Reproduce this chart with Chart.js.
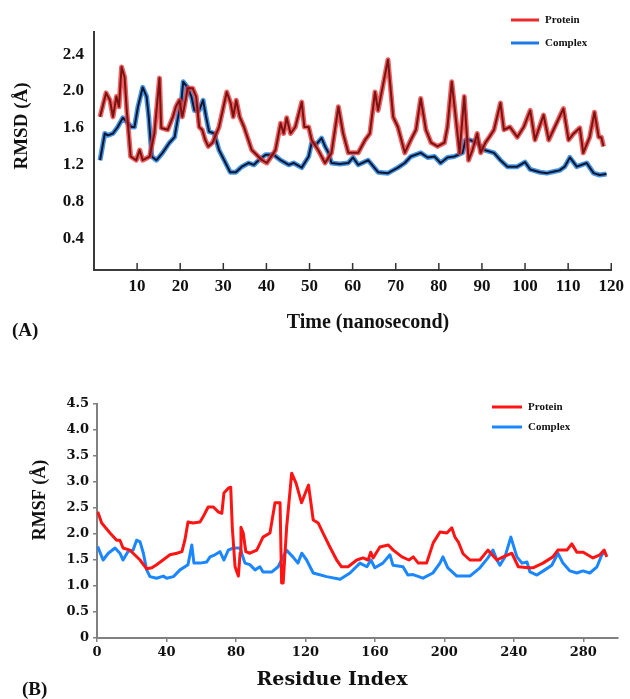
<!DOCTYPE html>
<html>
<head>
<meta charset="utf-8">
<script src="https://cdn.jsdelivr.net/npm/chart.js@4.4.1/dist/chart.umd.min.js"></script>
<style>
  body { margin: 0; background: #fff; width: 630px; height: 699px; overflow: hidden; }
  canvas { position: absolute; left: 0; }
  #chartA { top: 0; }
  #chartB { top: 345px; }
</style>
</head>
<body>
<canvas id="chartA" width="630" height="345"></canvas>
<canvas id="chartB" width="630" height="354"></canvas>
<script>
// (A) RMSD over time
var proteinTime = [1.4,2.8,3.7,4.4,5.2,5.8,6.4,7.1,7.6,8.5,9.8,10.6,11.3,12.9,14.0,15.2,15.6,17.1,18.3,19.0,19.8,20.5,21.4,21.7,22.9,23.7,24.4,25.1,25.8,26.5,27.5,29.0,30.8,31.7,32.3,33.0,33.8,34.8,36.6,39.0,40.1,42.1,43.3,44.0,44.7,45.6,46.7,48.2,48.8,49.8,50.5,52.0,53.6,55.1,56.7,57.8,59.0,61.3,62.9,64.0,65.2,65.9,68.2,69.4,70.5,72.1,73.5,74.7,75.8,77.0,78.2,79.7,81.3,82.0,83.0,83.9,84.8,85.9,86.9,87.8,88.9,89.7,90.8,91.7,92.8,94.3,95.1,96.5,98.2,99.7,101.2,102.3,104.3,105.5,106.6,108.9,110.1,111.3,112.7,113.5,115.0,116.1,117.1,117.7,118.2];
var proteinRmsd = [1.72,1.98,1.90,1.72,1.94,1.83,2.26,2.15,1.79,1.29,1.25,1.36,1.25,1.29,1.54,2.14,1.60,1.58,1.72,1.83,1.90,1.72,1.94,2.03,2.03,1.94,1.61,1.58,1.47,1.40,1.44,1.61,1.99,1.87,1.72,1.90,1.72,1.61,1.36,1.25,1.22,1.36,1.65,1.54,1.71,1.54,1.61,1.88,1.61,1.61,1.47,1.36,1.22,1.33,1.83,1.54,1.33,1.33,1.47,1.54,1.99,1.79,2.34,1.72,1.61,1.33,1.47,1.58,1.92,1.58,1.44,1.40,1.44,1.61,2.10,1.72,1.33,1.94,1.25,1.36,1.54,1.33,1.44,1.50,1.58,1.87,1.58,1.61,1.50,1.61,1.79,1.47,1.74,1.47,1.58,1.81,1.47,1.54,1.60,1.33,1.50,1.77,1.50,1.50,1.40];
var complexTime = [1.4,2.5,3.2,4.4,5.5,6.7,8.7,9.4,10.2,11.3,12.2,12.7,13.4,14.5,15.9,17.5,18.7,19.4,20.3,20.7,21.7,22.6,23.3,24.4,25.3,26.0,26.7,27.9,29.0,30.2,31.6,32.9,34.3,35.9,37.1,38.2,39.8,41.7,43.3,45.2,46.3,48.2,49.8,50.5,51.5,52.8,53.6,54.4,55.1,57.0,59.0,60.1,61.3,63.6,65.9,68.2,70.5,72.1,73.5,75.8,77.4,79.0,80.4,82.0,83.6,85.5,86.2,87.1,88.9,90.6,92.8,94.3,95.9,98.2,100.0,101.2,103.5,105.1,107.0,108.0,109.2,110.4,112.0,114.3,115.9,117.3,118.9];
var complexRmsd = [1.25,1.54,1.52,1.54,1.61,1.71,1.61,1.61,1.83,2.04,1.94,1.72,1.29,1.25,1.33,1.44,1.50,1.69,1.90,2.10,2.04,1.94,1.79,1.79,1.90,1.72,1.56,1.54,1.36,1.25,1.12,1.12,1.18,1.22,1.20,1.25,1.31,1.31,1.25,1.20,1.22,1.17,1.29,1.44,1.42,1.49,1.40,1.33,1.22,1.21,1.22,1.28,1.20,1.25,1.12,1.11,1.17,1.22,1.29,1.33,1.28,1.29,1.22,1.28,1.29,1.33,1.47,1.47,1.44,1.36,1.33,1.25,1.18,1.18,1.23,1.15,1.12,1.11,1.13,1.14,1.18,1.28,1.18,1.22,1.11,1.09,1.10];
var rmsdTicks = [0.4, 0.8, 1.2, 1.6, 2.0, 2.4];

// (B) RMSF per residue
var proteinResidue = [0.4,2.7,7.5,11.3,13.2,15,19,20.8,24.8,28.6,31.6,34.3,38,42,46,48.9,50.6,52.4,55.3,59.3,61.1,64,67,70,71.9,73.1,75.6,77,77.9,79.5,81.4,82.4,82.9,84.2,85.7,88,92,95.6,99.6,102.5,105.4,106.3,107.2,109.2,112.1,114.6,117.8,120.7,121.8,124.5,127.4,130.1,134.1,138,140.8,144.6,149.6,153.2,156.1,157.6,159,162.9,167.7,170.6,175.6,179.6,182.1,185,189.8,193.6,197.5,201.5,204.3,206.1,208,210.8,214.7,220.5,225.1,230.3,233.9,238.9,242.6,248.3,251,256.8,262.5,265.4,270.6,273.4,276.3,280,285.6,289.6,292,293.6];
var proteinRmsf = [2.43,2.21,2.02,1.88,1.88,1.73,1.69,1.63,1.50,1.33,1.35,1.41,1.50,1.60,1.63,1.66,1.88,2.23,2.21,2.23,2.33,2.52,2.52,2.42,2.40,2.79,2.88,2.90,2.13,1.37,1.19,1.63,2.13,2.02,1.66,1.63,1.69,1.94,2.02,2.60,2.60,1.06,1.06,2.13,3.17,2.98,2.60,2.85,2.94,2.27,2.21,2.02,1.75,1.50,1.37,1.37,1.50,1.54,1.50,1.65,1.54,1.75,1.79,1.69,1.56,1.50,1.56,1.44,1.44,1.83,2.04,2.02,2.12,1.94,1.85,1.62,1.50,1.50,1.69,1.50,1.56,1.63,1.37,1.35,1.35,1.44,1.56,1.69,1.69,1.81,1.65,1.65,1.54,1.60,1.69,1.56];
var complexResidue = [0.4,3.5,6.5,10.4,13.2,15,17.8,20.8,22.8,24.8,26.7,28.6,30.5,34.3,38.2,40.1,44,47.8,52.4,54.6,55.8,59.3,63.1,65.1,67.9,70.8,73.1,75.6,78.3,82.3,85.2,88,91,93.8,95.6,100.7,104.3,109.1,112.8,115.7,117.9,120.7,124.5,132.2,140,145.7,151.4,155.4,157.7,160,164.6,168.7,170.4,176.2,179,182,187.7,193.4,197.5,199.2,202,207.2,214.7,220.5,225.1,228,230.3,232,234.9,238.3,241.8,244.7,247.6,249.3,253.3,257.9,261.9,265.4,268.3,272.3,276.3,279.8,283.8,287.9,290.7,292.5];
var complexRmsf = [1.76,1.50,1.63,1.73,1.63,1.50,1.66,1.69,1.88,1.85,1.63,1.31,1.18,1.15,1.19,1.15,1.18,1.31,1.41,1.79,1.44,1.44,1.46,1.56,1.60,1.66,1.50,1.69,1.73,1.73,1.44,1.41,1.31,1.37,1.27,1.27,1.37,1.69,1.56,1.44,1.63,1.50,1.25,1.18,1.13,1.25,1.44,1.37,1.50,1.35,1.44,1.60,1.40,1.37,1.21,1.22,1.15,1.25,1.44,1.56,1.35,1.19,1.19,1.35,1.54,1.69,1.50,1.40,1.56,1.94,1.56,1.44,1.46,1.27,1.21,1.31,1.40,1.63,1.44,1.29,1.25,1.29,1.25,1.37,1.60,1.65];
var residueTicks = [0, 40, 80, 120, 160, 200, 240, 280];
var rmsfTicks = [0, 0.5, 1.0, 1.5, 2.0, 2.5, 3.0, 3.5, 4.0, 4.5];

var seriesLabels = ['Protein', 'Complex'];
var serif = '"Liberation Serif", "Times New Roman", serif';
var wideSerif = '"DejaVu Serif", serif'; // panel B uses a broader face

function pairs(xs, ys) {
    var out = [];
    for (var i = 0; i < xs.length; i++) out.push({x: xs[i], y: ys[i]});
    return out;
}

function line(data, color, width) {
    return {data: data, borderColor: color, borderWidth: width, pointRadius: 0, fill: false, tension: 0, borderJoinStyle: 'round'};
}

// axis titles, legend and panel letter drawn at fixed spots
var captions = {
    id: 'captions',
    afterDraw: function(chart, args, opts) {
        var ctx = chart.ctx;
        ctx.save();
        ctx.fillStyle = '#111';
        opts.texts.forEach(function(t) {
            ctx.save();
            ctx.font = 'bold ' + t.size + 'px ' + (t.family || serif);
            ctx.textAlign = t.align || 'center';
            ctx.textBaseline = 'middle';
            ctx.translate(t.x, t.y);
            if (t.rotate) ctx.rotate(-Math.PI / 2);
            ctx.fillText(t.text, 0, 0);
            ctx.restore();
        });
        var lg = opts.legend;
        seriesLabels.forEach(function(label, i) {
            var y = lg.y + i * lg.gap;
            ctx.strokeStyle = lg.colors[i];
            ctx.lineWidth = 3;
            ctx.beginPath();
            ctx.moveTo(lg.x, y);
            ctx.lineTo(lg.x + lg.len, y);
            ctx.stroke();
            ctx.font = 'bold ' + lg.size + 'px ' + serif;
            ctx.textAlign = 'left';
            ctx.textBaseline = 'middle';
            ctx.fillText(label, lg.x + lg.len + 6, y);
        });
        ctx.restore();
    }
};

// small tick marks pointing up into the plot (panel A)
var innerTicks = {
    id: 'innerTicks',
    afterDraw: function(chart) {
        var sx = chart.scales.x, ctx = chart.ctx;
        ctx.save();
        ctx.strokeStyle = '#333';
        ctx.lineWidth = 1.5;
        sx.ticks.forEach(function(t) {
            if (t.value === 0) return;
            var px = sx.getPixelForValue(t.value);
            ctx.beginPath();
            ctx.moveTo(px, sx.top);
            ctx.lineTo(px, sx.top - 7);
            ctx.stroke();
        });
        ctx.restore();
    }
};

var chartA = new Chart(document.getElementById('chartA').getContext('2d'), {
    type: 'line',
    data: {
        datasets: [
            line(pairs(proteinTime, proteinRmsd), '#7a1212', 2),
            line(pairs(proteinTime, proteinRmsd), 'rgba(232,58,58,0.8)', 5),
            line(pairs(complexTime, complexRmsd), '#0b1731', 2),
            line(pairs(complexTime, complexRmsd), 'rgba(40,130,225,0.85)', 5)
        ]
    },
    options: {
        responsive: false,
        animation: false,
        devicePixelRatio: 1,
        layout: {padding: {top: 32, right: 15, left: 0, bottom: 0}},
        plugins: {
            legend: {display: false},
            tooltip: {enabled: false},
            captions: {
                texts: [
                    {text: 'RMSD (Å)', x: 22, y: 126, size: 19, rotate: true},
                    {text: 'Time (nanosecond)', x: 368, y: 323, size: 20},
                    {text: '(A)', x: 12, y: 331, size: 19, align: 'left'}
                ],
                legend: {x: 511, y: 20, gap: 23, len: 28, size: 11, colors: ['#e82a2a', '#1f78e6']}
            }
        },
        scales: {
            x: {
                type: 'linear', min: 0, max: 120,
                ticks: {stepSize: 10, padding: 6, maxRotation: 0, color: '#111',
                    font: {family: serif, size: 17, weight: 'bold'},
                    callback: function(v) { return v === 0 ? '' : v; }},
                grid: {display: false, drawTicks: false},
                border: {color: '#3a3a3a', width: 2},
                afterFit: function(s) { s.height = 75; }
            },
            y: {
                min: 0.06, max: 2.64,
                afterBuildTicks: function(s) { s.ticks = rmsdTicks.map(function(v) { return {value: v}; }); },
                ticks: {padding: 10, color: '#111', font: {family: serif, size: 17, weight: 'bold'},
                    callback: function(v) { return v.toFixed(1); }},
                grid: {display: false, drawTicks: false},
                border: {color: '#3a3a3a', width: 2},
                afterFit: function(s) { s.width = 94; }
            }
        }
    },
    plugins: [innerTicks, captions]
});

var chartB = new Chart(document.getElementById('chartB').getContext('2d'), {
    type: 'line',
    data: {
        datasets: [
            line(pairs(proteinResidue, proteinRmsf), '#ff1414', 3),
            line(pairs(complexResidue, complexRmsf), '#1a86ff', 3)
        ]
    },
    options: {
        responsive: false,
        animation: false,
        devicePixelRatio: 1,
        layout: {padding: {top: 59, right: 12, left: 0, bottom: 0}},
        plugins: {
            legend: {display: false},
            tooltip: {enabled: false},
            captions: {
                texts: [
                    {text: 'RMSF (Å)', x: 40, y: 155, size: 18, rotate: true},
                    {text: 'Residue Index', x: 332, y: 335, size: 19, family: wideSerif},
                    {text: '(B)', x: 22, y: 345, size: 19, align: 'left'}
                ],
                legend: {x: 492, y: 62, gap: 20, len: 30, size: 11, colors: ['#ff1414', '#1a86ff']}
            }
        },
        scales: {
            x: {
                type: 'linear', min: 0, max: 300,
                afterBuildTicks: function(s) { s.ticks = residueTicks.map(function(v) { return {value: v}; }); },
                ticks: {padding: 3, maxRotation: 0, color: '#111', font: {family: wideSerif, size: 13, weight: 'bold'}},
                grid: {drawOnChartArea: false, drawTicks: true, tickLength: 4, color: '#808080', lineWidth: 1.5},
                border: {color: '#808080', width: 2},
                afterFit: function(s) { s.height = 61; }
            },
            y: {
                min: 0, max: 4.5,
                afterBuildTicks: function(s) { s.ticks = rmsfTicks.map(function(v) { return {value: v}; }); },
                ticks: {padding: 4, color: '#111', font: {family: wideSerif, size: 13, weight: 'bold'},
                    callback: function(v) { return v === 0 ? '0' : v.toFixed(1); }},
                grid: {drawOnChartArea: false, drawTicks: true, tickLength: 4, color: '#808080', lineWidth: 1.5},
                border: {color: '#808080', width: 2},
                afterFit: function(s) { s.width = 97; }
            }
        }
    },
    plugins: [captions]
});
</script>
</body>
</html>
